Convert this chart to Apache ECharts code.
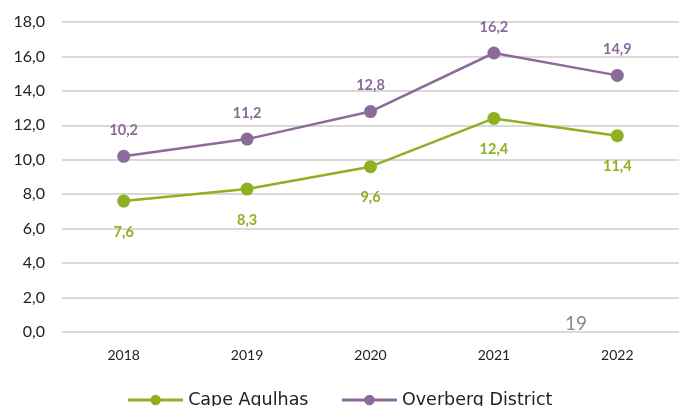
<!DOCTYPE html>
<html>
<head>
<meta charset="utf-8">
<script src="https://cdn.jsdelivr.net/npm/echarts@6/dist/echarts.min.js"></script>
<style>
  html, body { margin: 0; padding: 0; background: #fff; }
  #chart { width: 679px; height: 406px; }
</style>
</head>
<body>
<div id="chart"></div>
<script>
const years = ["2018", "2019", "2020", "2021", "2022"];
const capeAgulhas = [7.6, 8.3, 9.6, 12.4, 11.4];
const overberg = [10.2, 11.2, 12.8, 16.2, 14.9];
const yTicks = { min: 0, max: 18, interval: 2 };

const green = "#8eb021";
const purple = "#8c6b9a";
const fmt = v => v.toFixed(1).replace(".", ",");

let chart = echarts.init(document.getElementById("chart"));
chart.setOption({
  animation: false,
  textStyle: { fontFamily: "Lato, 'Noto Sans', sans-serif" },
  grid: { left: 62, right: -5, top: 22, bottom: 74 },
  legend: {
    data: ["Cape Agulhas", "Overberg District"],
    bottom: -8,
    left: "center",
    itemGap: 32,
    itemWidth: 55,
    itemHeight: 13,
    lineStyle: { width: 3 },
    textStyle: { fontSize: 17.5, color: "#222", fontFamily: "'DejaVu Sans', sans-serif" }
  },
  xAxis: {
    type: "category",
    data: years,
    axisLine: { show: false },
    axisTick: { show: false },
    axisLabel: { fontSize: 14, color: "#222", margin: 16 }
  },
  yAxis: {
    type: "value",
    min: yTicks.min,
    max: yTicks.max,
    interval: yTicks.interval,
    axisLabel: { formatter: fmt, fontSize: 16, color: "#222", margin: 17 },
    splitLine: { lineStyle: { color: "#d9d9d9", width: 2 } }
  },
  graphic: [{
    type: "text",
    left: 565,
    top: 314,
    style: { text: "19", fontSize: 19, fill: "#8a8a8a", fontFamily: "Lato, sans-serif" }
  }],
  series: [
    {
      name: "Cape Agulhas",
      type: "line",
      data: capeAgulhas,
      color: green,
      symbol: "circle",
      symbolSize: 13,
      lineStyle: { width: 2.5 },
      label: {
        show: true, position: "bottom", distance: 17,
        formatter: p => fmt(p.value),
        color: green, fontWeight: "bold", fontSize: 14.5
      }
    },
    {
      name: "Overberg District",
      type: "line",
      data: overberg,
      color: purple,
      symbol: "circle",
      symbolSize: 13,
      lineStyle: { width: 2.5 },
      label: {
        show: true, position: "top", distance: 12,
        formatter: p => fmt(p.value),
        color: purple, fontWeight: "bold", fontSize: 14.5
      }
    }
  ]
});
window.addEventListener("resize", () => chart.resize());
</script>
</body>
</html>
